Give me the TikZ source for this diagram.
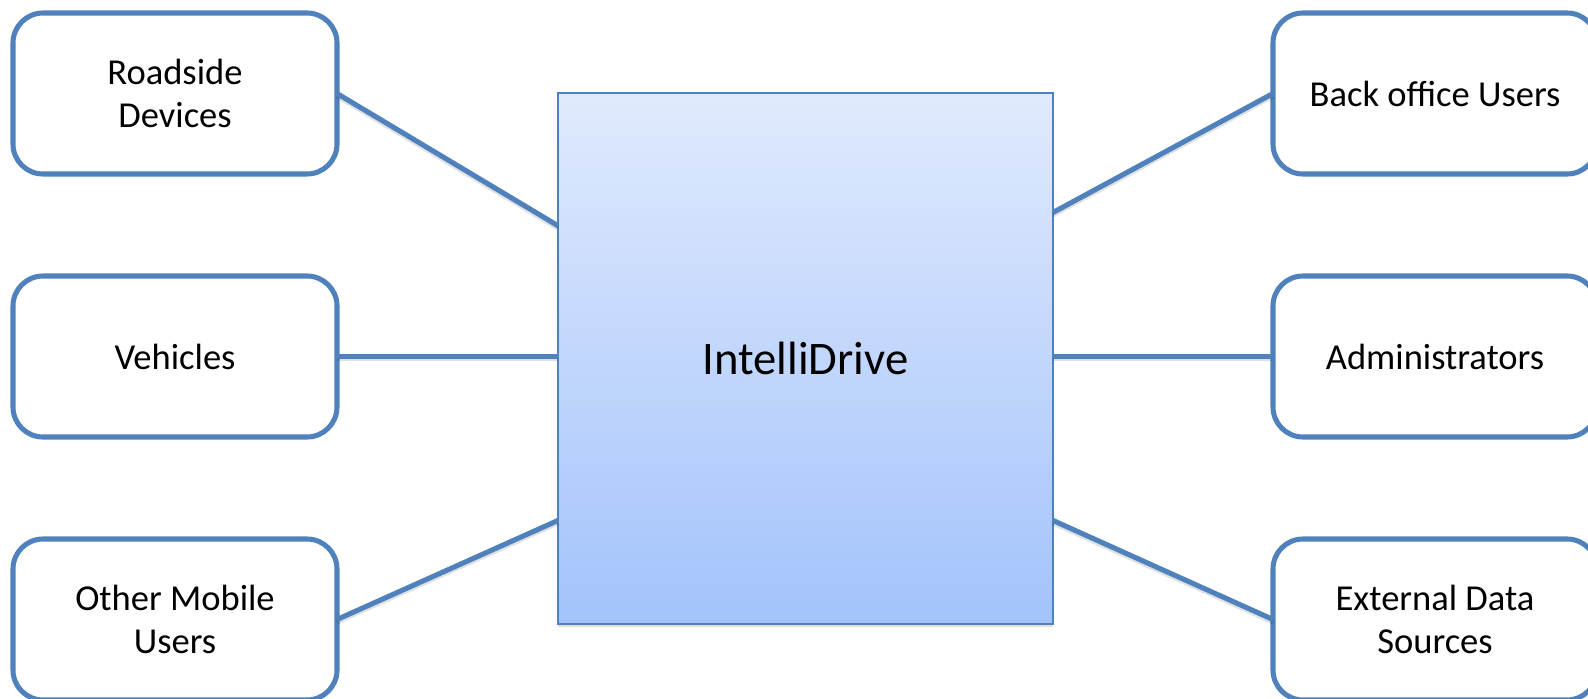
\documentclass[tikz,border=0pt]{standalone}
\usepackage{fontspec}
\setmainfont{Carlito}
\usetikzlibrary{calc,shadows}
\definecolor{actorblue}{HTML}{4F81BD}
\definecolor{systop}{HTML}{E0EAFD}
\definecolor{sysbot}{HTML}{A3C3FB}

\begin{document}
\begin{tikzpicture}[x=0.75pt, y=-0.75pt, line width=3pt,
    actor/.style={draw=actorblue, line width=3.8pt, rounded corners=22.5pt, fill=white, minimum width=243pt, minimum height=120.75pt, inner sep=0pt, outer sep=0pt, align=center, font=\fontsize{27.4}{32.3}\selectfont},
    system/.style={draw=actorblue, line width=1.6pt, top color=systop, bottom color=sysbot, minimum width=371.25pt, minimum height=398.25pt, inner sep=0pt, outer sep=0pt, font=\fontsize{35}{42}\selectfont, drop shadow={shadow xshift=0pt, shadow yshift=-2.5pt, opacity=0.25}},
    link/.style={draw=actorblue, line width=3.8pt, preaction={draw=black, draw opacity=0.12, line width=3.8pt, transform canvas={yshift=-1.8pt}}}]
    \useasboundingbox (0,0) rectangle (1588,699);

    % the system in the middle
    \node[system] (intelli) at (805.5,358.5) {IntelliDrive};

    % actors on the left
    \node[actor] (roadside) at (175,93.5) {Roadside\\Devices};
    \node[actor] (vehicles) at (175,356.5) {Vehicles};
    \node[actor] (mobile) at (175,619.5) {Other Mobile\\Users};

    % actors on the right
    \node[actor] (backoffice) at (1435,93.5) {Back office Users};
    \node[actor] (admins) at (1435,356.5) {Administrators};
    \node[actor] (extdata) at (1435,619.5) {External Data\\Sources};

    \draw[link] (roadside.east) -- ($(intelli.north west)!0.25!(intelli.south west)$);
    \draw[link] (vehicles.east) -- (vehicles.east -| intelli.west);
    \draw[link] (mobile.east) -- ($(intelli.north west)!0.805!(intelli.south west)$);
    \draw[link] (backoffice.west) -- ($(intelli.north east)!0.225!(intelli.south east)$);
    \draw[link] (admins.west) -- (admins.west -| intelli.east);
    \draw[link] (extdata.west) -- ($(intelli.north east)!0.805!(intelli.south east)$);
\end{tikzpicture}
\end{document}
